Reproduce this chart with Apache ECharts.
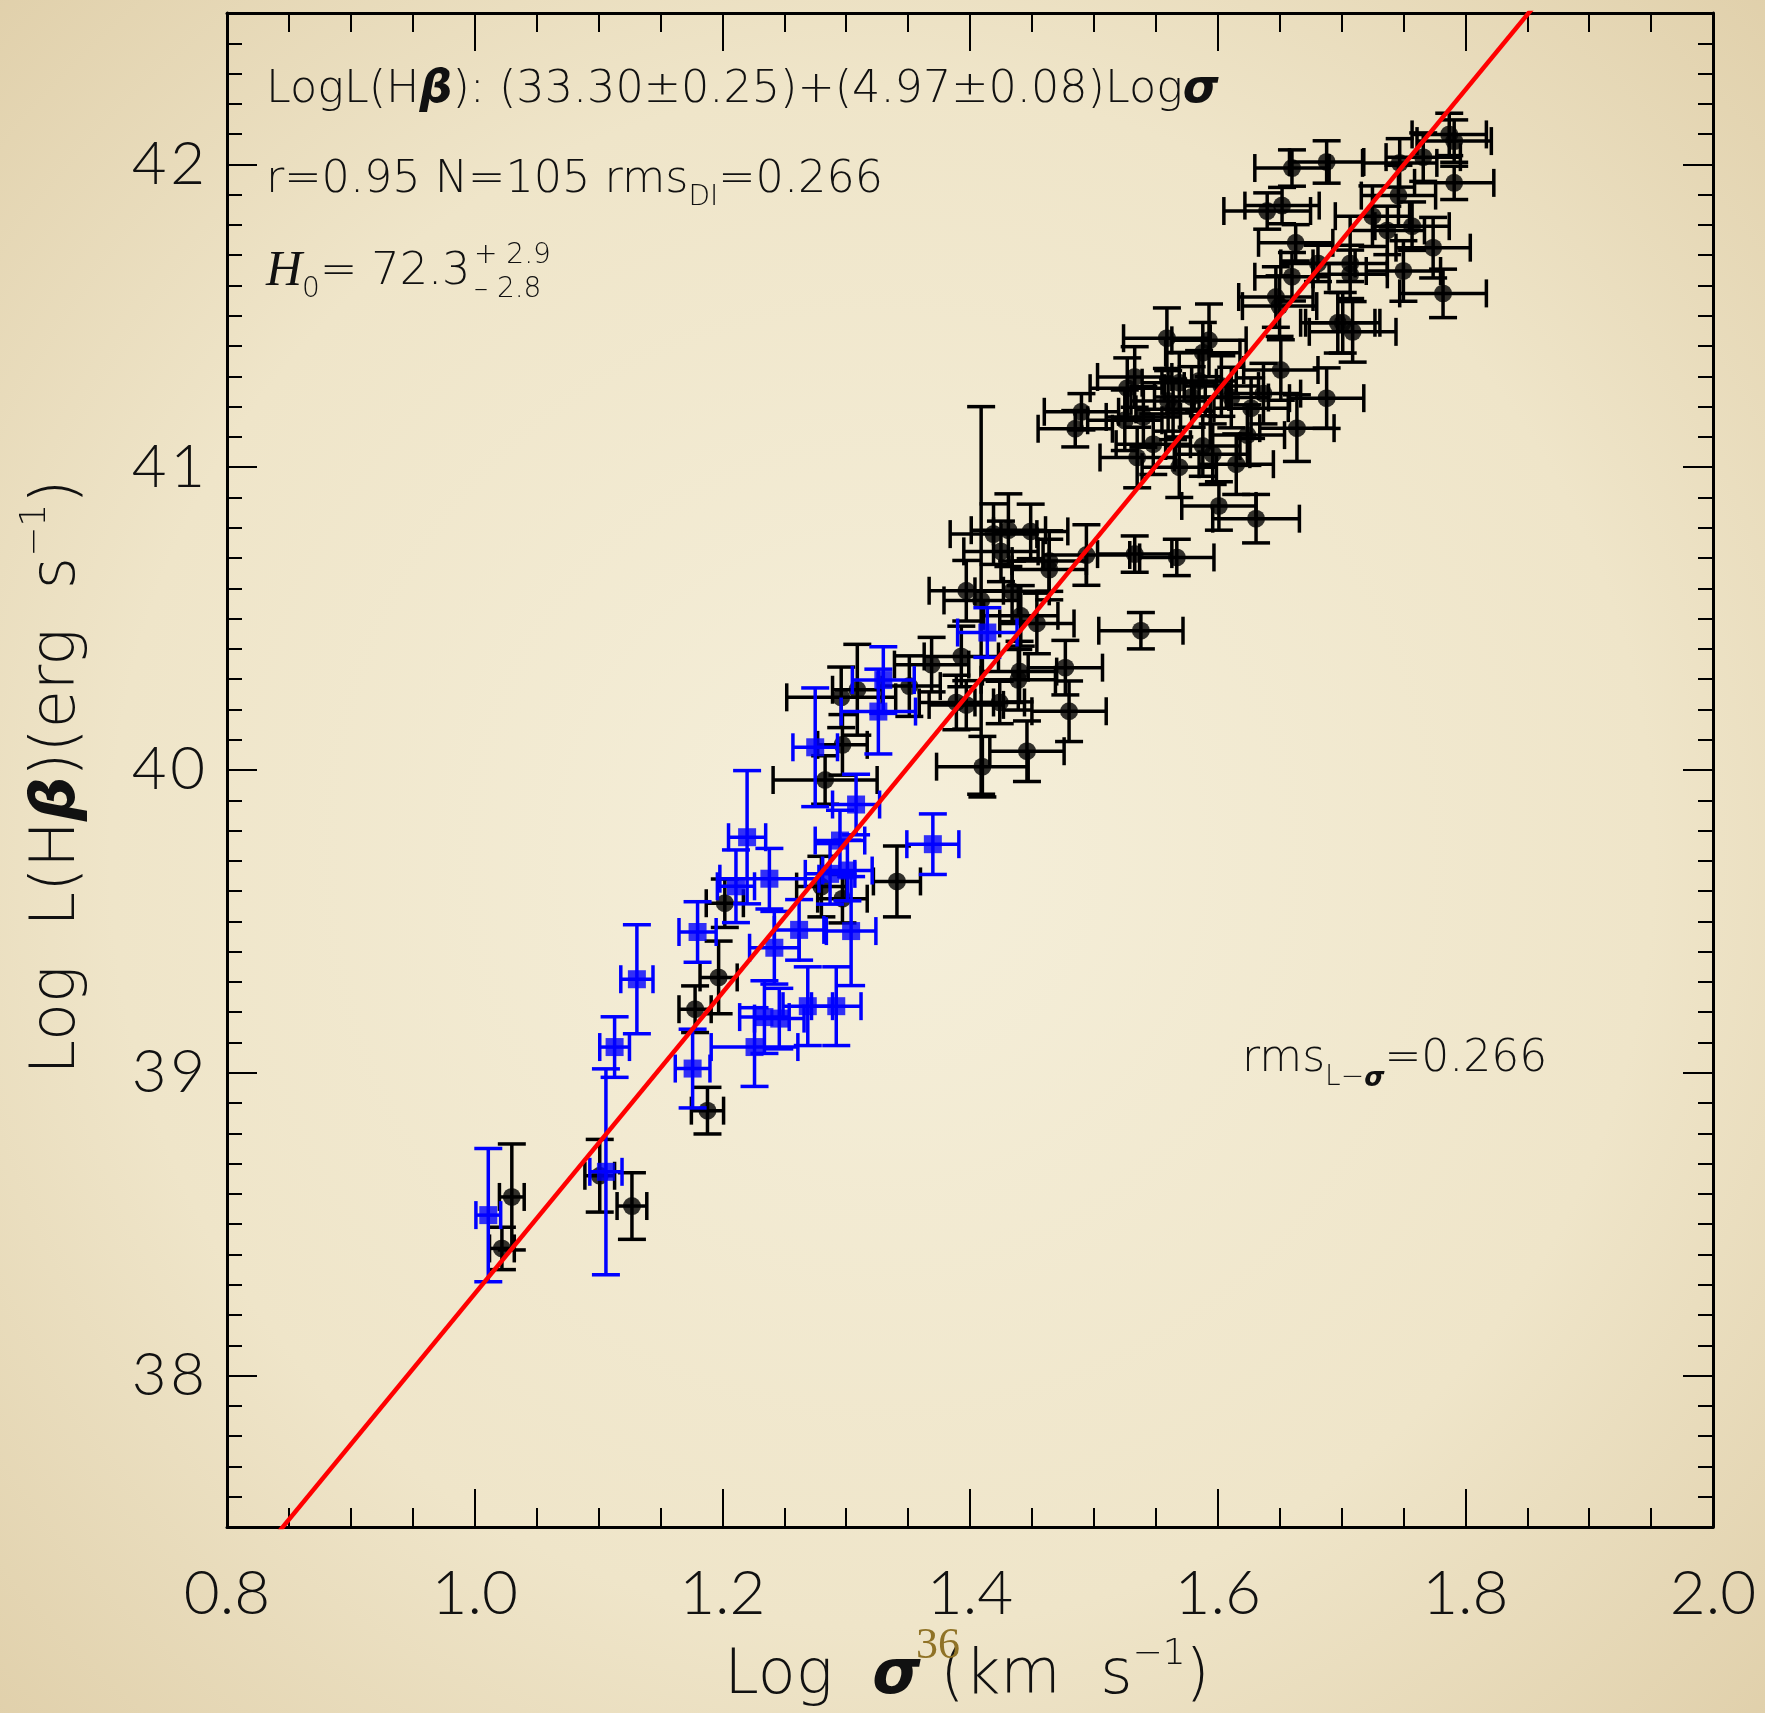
<!DOCTYPE html>
<html>
<head>
<meta charset="utf-8">
<title>Log L(Hβ) vs Log σ</title>
<script src="https://cdn.jsdelivr.net/npm/echarts@6/dist/echarts.min.js"></script>
<style>
html, body { margin: 0; padding: 0; }
#chart_container { width: 1765px; height: 1713px; }
</style>
</head>
<body>
<div id="chart_container"></div>
<script>
// black points (circles): log sigma, log L(Hb), errors
var black_logsig = [
    1.030, 1.022, 1.101, 1.127, 1.188, 1.178, 1.197, 1.202, 1.280, 1.297,
    1.341, 1.283, 1.297, 1.296, 1.309, 1.351, 1.369, 1.393, 1.389, 1.397,
    1.424, 1.440, 1.439, 1.477, 1.480, 1.446, 1.410, 1.538, 1.454, 1.441,
    1.397, 1.409, 1.434, 1.425, 1.464, 1.464, 1.419, 1.431, 1.449, 1.494,
    1.533, 1.567, 1.601, 1.631, 1.615, 1.569, 1.535, 1.548, 1.588, 1.596,
    1.624, 1.664, 1.688, 1.627, 1.637, 1.651, 1.485, 1.490, 1.525, 1.540,
    1.527, 1.533, 1.560, 1.569, 1.579, 1.564, 1.585, 1.603, 1.611, 1.559,
    1.593, 1.588, 1.647, 1.650, 1.697, 1.787, 1.791, 1.791, 1.766, 1.747,
    1.746, 1.725, 1.737, 1.757, 1.774, 1.750, 1.782, 1.660, 1.688, 1.640,
    1.652, 1.663, 1.681, 1.707, 1.707, 1.660, 1.701, 1.709
];
var black_logL = [
    38.590, 38.420, 38.660, 38.560, 38.875, 39.210, 39.315, 39.560, 39.615, 39.575,
    39.632, 39.967, 40.083, 40.240, 40.265, 40.277, 40.348, 40.375, 40.223, 40.215,
    40.223, 40.325, 40.298, 40.338, 40.194, 40.062, 40.011, 40.460, 40.484, 40.509,
    40.592, 40.560, 40.590, 40.722, 40.690, 40.662, 40.779, 40.792, 40.788, 40.710,
    40.713, 40.702, 40.872, 40.830, 41.010, 41.000, 41.032, 41.076, 41.070, 41.043,
    41.106, 41.129, 41.228, 41.195, 41.243, 41.321, 41.127, 41.183, 41.155, 41.166,
    41.261, 41.298, 41.219, 41.279, 41.232, 41.191, 41.285, 41.268, 41.230, 41.426,
    41.419, 41.378, 41.562, 41.532, 41.477, 42.099, 42.077, 41.939, 42.024, 42.005,
    41.897, 41.829, 41.782, 41.796, 41.725, 41.648, 41.574, 41.988, 42.008, 41.846,
    41.864, 41.741, 41.673, 41.673, 41.637, 41.629, 41.477, 41.447
];
var black_xerr = [
    0.010, 0.010, 0.012, 0.012, 0.013, 0.013, 0.015, 0.015, 0.020, 0.020,
    0.019, 0.042, 0.020, 0.044, 0.020, 0.025, 0.030, 0.030, 0.030, 0.030,
    0.020, 0.030, 0.030, 0.030, 0.030, 0.030, 0.037, 0.034, 0.030, 0.030,
    0.030, 0.030, 0.030, 0.030, 0.030, 0.030, 0.035, 0.030, 0.030, 0.035,
    0.030, 0.030, 0.030, 0.035, 0.030, 0.030, 0.030, 0.030, 0.030, 0.030,
    0.030, 0.030, 0.030, 0.030, 0.030, 0.030, 0.030, 0.030, 0.030, 0.030,
    0.030, 0.030, 0.030, 0.030, 0.030, 0.030, 0.030, 0.030, 0.030, 0.035,
    0.030, 0.030, 0.030, 0.030, 0.030, 0.030, 0.030, 0.032, 0.030, 0.030,
    0.030, 0.030, 0.030, 0.030, 0.030, 0.030, 0.035, 0.030, 0.030, 0.035,
    0.030, 0.030, 0.030, 0.030, 0.030, 0.030, 0.030, 0.035
];
var black_yerr = [
    0.175, 0.070, 0.120, 0.110, 0.077, 0.077, 0.120, 0.080, 0.100, 0.080,
    0.117, 0.080, 0.100, 0.100, 0.150, 0.100, 0.090, 0.100, 0.090, 0.080,
    0.070, 0.100, 0.100, 0.090, 0.100, 0.100, 0.100, 0.060, 0.100, 0.100,
    0.100, 0.640, 0.100, 0.100, 0.100, 0.100, 0.100, 0.120, 0.090, 0.100,
    0.060, 0.060, 0.080, 0.080, 0.100, 0.100, 0.100, 0.100, 0.100, 0.100,
    0.100, 0.110, 0.100, 0.100, 0.100, 0.100, 0.060, 0.060, 0.100, 0.100,
    0.100, 0.100, 0.100, 0.100, 0.100, 0.100, 0.100, 0.100, 0.100, 0.100,
    0.120, 0.100, 0.100, 0.100, 0.100, 0.070, 0.070, 0.055, 0.080, 0.080,
    0.100, 0.100, 0.080, 0.080, 0.100, 0.100, 0.080, 0.060, 0.070, 0.060,
    0.060, 0.060, 0.060, 0.060, 0.080, 0.080, 0.100, 0.100
];

// blue points (squares)
var blue_logsig = [
    1.011, 1.106, 1.176, 1.113, 1.131, 1.226, 1.234, 1.246, 1.269, 1.292,
    1.242, 1.262, 1.304, 1.180, 1.211, 1.238, 1.287, 1.301, 1.370, 1.308,
    1.275, 1.330, 1.326, 1.414, 1.220, 1.295
];
var blue_logL = [
    38.530, 38.673, 39.014, 39.085, 39.309, 39.085, 39.184, 39.179, 39.220, 39.220,
    39.413, 39.472, 39.468, 39.465, 39.616, 39.641, 39.657, 39.668, 39.755, 39.886,
    40.075, 40.297, 40.193, 40.454, 39.778, 39.767
];
var blue_xerr = [
    0.010, 0.013, 0.014, 0.012, 0.013, 0.035, 0.020, 0.020, 0.020, 0.020,
    0.020, 0.020, 0.020, 0.015, 0.015, 0.040, 0.020, 0.020, 0.021, 0.019,
    0.018, 0.025, 0.030, 0.024, 0.015, 0.020
];
var blue_yerr = [
    0.220, 0.340, 0.130, 0.100, 0.180, 0.130, 0.120, 0.100, 0.130, 0.130,
    0.120, 0.100, 0.180, 0.100, 0.120, 0.100, 0.100, 0.100, 0.100, 0.100,
    0.196, 0.110, 0.140, 0.082, 0.220, 0.100
];

// fit LogL(Hb) = a + b Log(sigma)
var fit_a = 33.30, fit_b = 4.97;
var fit_x = [0.8, 2.0];

var y_major = [38, 39, 40, 41, 42];

var FONT = 'Lato';
var TFONT = 'DejaVu Sans';
var TXT = '#111';

function zip(xs, ys, xe, ye) {
    var out = [];
    for (var i = 0; i < xs.length; i++) out.push([xs[i], ys[i], xe[i], ye[i]]);
    return out;
}
var black_data = zip(black_logsig, black_logL, black_xerr, black_yerr);
var blue_data = zip(blue_logsig, blue_logL, blue_xerr, blue_yerr);
var fit_data = fit_x.map(function (x) { return [x, fit_a + fit_b * x]; });

function errorBars(color) {
    return function (params, api) {
        var x = api.value(0), y = api.value(1), dx = api.value(2), dy = api.value(3);
        var c = api.coord([x, y]);
        var l = api.coord([x - dx, y])[0], r = api.coord([x + dx, y])[0];
        var t = api.coord([x, y + dy])[1], b = api.coord([x, y - dy])[1];
        var cap = 14;
        var st = { stroke: color, lineWidth: 3.5 };
        return {
            type: 'group',
            children: [
                { type: 'line', shape: { x1: l, y1: c[1], x2: r, y2: c[1] }, style: st },
                { type: 'line', shape: { x1: c[0], y1: t, x2: c[0], y2: b }, style: st },
                { type: 'line', shape: { x1: l, y1: c[1] - cap, x2: l, y2: c[1] + cap }, style: st },
                { type: 'line', shape: { x1: r, y1: c[1] - cap, x2: r, y2: c[1] + cap }, style: st },
                { type: 'line', shape: { x1: c[0] - cap, y1: t, x2: c[0] + cap, y2: t }, style: st },
                { type: 'line', shape: { x1: c[0] - cap, y1: b, x2: c[0] + cap, y2: b }, style: st }
            ]
        };
    };
}

var axisLineStyle = { color: '#000', width: 3 };
var tickStyle = { color: '#000', width: 2 };

function xAxisCfg(pos, labels) {
    return {
        type: 'value', position: pos, min: 0.8, max: 2.0, interval: 0.2,
        axisLine: { show: true, onZero: false, lineStyle: axisLineStyle },
        axisTick: { show: true, inside: true, length: 38, lineStyle: tickStyle },
        minorTick: { show: true, splitNumber: 4, length: 19, lineStyle: tickStyle },
        splitLine: { show: false },
        axisLabel: {
            show: labels, margin: 36, fontSize: 62, fontFamily: FONT, fontWeight: 300, color: TXT,
            showMinLabel: true, showMaxLabel: true,
            formatter: function (v) { return v.toFixed(1); }
        }
    };
}
function yMinorCfg(pos, labels) {
    return {
        type: 'value', position: pos, min: 37.5, max: 42.5, interval: 0.1,
        axisLine: { show: true, onZero: false, lineStyle: axisLineStyle },
        axisTick: { show: true, inside: true, length: 15, lineStyle: tickStyle },
        splitLine: { show: false },
        axisLabel: {
            show: labels, customValues: y_major, margin: 22, fontSize: 60, fontFamily: FONT,
            fontWeight: 300, color: TXT,
            formatter: function (v) { return String(Math.round(v)).split('').join('\u200A'); }
        }
    };
}
function yMajorCfg(pos) {
    return {
        type: 'value', position: pos, min: 37.5, max: 42.5, interval: 0.5,
        axisLine: { show: false },
        axisTick: { show: true, inside: true, length: 30, customValues: y_major, lineStyle: tickStyle },
        splitLine: { show: false },
        axisLabel: { show: false }
    };
}

function tok(size, extra) {
    var s = { fontSize: size, fontFamily: TFONT, fontWeight: 200, fill: TXT, lineHeight: 64 };
    for (var k in extra) s[k] = extra[k];
    return s;
}
var rich = {
    n: tok(44.5, {}),
    g: tok(46, { fontWeight: 'bold', fontStyle: 'italic' }),
    h: tok(50, { fontFamily: 'Liberation Serif', fontWeight: 'normal', fontStyle: 'italic' }),
    sub: tok(28, { lineHeight: 30, verticalAlign: 'bottom' }),
    subg: tok(26, { lineHeight: 30, verticalAlign: 'bottom', fontWeight: 'bold', fontStyle: 'italic' })
};
var richSmall = {
    n: tok(44, {}),
    sub: tok(28, { lineHeight: 30, verticalAlign: 'bottom' }),
    subg: tok(26, { lineHeight: 30, verticalAlign: 'bottom', fontWeight: 'bold', fontStyle: 'italic' })
};
var richTitle = {
    n: tok(62, { lineHeight: 80 }),
    g: tok(62, { lineHeight: 80, fontWeight: 'bold', fontStyle: 'italic' }),
    sup: tok(36, { lineHeight: 40, verticalAlign: 'top' })
};

function label(x, y, text, r, extra) {
    var el = { type: 'text', x: x, y: y, z: 100,
        style: { text: text, rich: r, align: 'left', verticalAlign: 'middle', fill: TXT, fontFamily: TFONT } };
    for (var k in extra) el[k] = extra[k];
    return el;
}
function plain(x, y, text, size, extra) {
    var st = { text: text, fontSize: size, fontFamily: TFONT, fontWeight: 200, fill: TXT,
        align: 'left', verticalAlign: 'middle' };
    for (var k in extra) st[k] = extra[k];
    return { type: 'text', x: x, y: y, z: 100, style: st };
}

var dom = document.getElementById('chart_container');
var myChart = echarts.init(dom, null, { renderer: 'canvas' });

var option = {
    animation: false,
    backgroundColor: {
        type: 'radial', x: 0.5, y: 0.5, r: 0.75,
        colorStops: [
            { offset: 0, color: '#f5efda' },
            { offset: 0.6, color: '#efe5c9' },
            { offset: 1, color: '#dfceA8' }
        ]
    },
    grid: { left: 227, right: 52, top: 13, bottom: 186, containLabel: false },
    xAxis: [xAxisCfg('bottom', true), xAxisCfg('top', false)],
    yAxis: [yMinorCfg('left', true), yMajorCfg('left'), yMinorCfg('right', false), yMajorCfg('right')],
    series: [
        {
            type: 'custom', name: 'black err', clip: true, renderItem: errorBars('#000000'),
            encode: { x: 0, y: 1 }, data: black_data, z: 2
        },
        {
            type: 'scatter', name: 'black', symbol: 'circle', symbolSize: 18,
            itemStyle: { color: '#000000' }, data: black_data, z: 3
        },
        {
            type: 'custom', name: 'blue err', clip: true, renderItem: errorBars('#0000ff'),
            encode: { x: 0, y: 1 }, data: blue_data, z: 4
        },
        {
            type: 'scatter', name: 'blue', symbol: 'rect', symbolSize: 18,
            itemStyle: { color: '#0000ff' }, data: blue_data, z: 5
        },
        {
            type: 'line', name: 'fit', data: fit_data, showSymbol: false, clip: true,
            lineStyle: { color: '#ff0000', width: 4.5 }, z: 6
        }
    ],
    graphic: [
        label(266, 90, '{n|LogL(H}{g|β}{n|): (33.30±0.25)+(4.97±0.08)Log}{g|σ}', rich),
        label(266, 180, '{n|r=0.95 N=105 rms}{sub|DI}{n|=0.266}', rich),
        label(266, 272, '{h|H}{sub|0}{n|= 72.3}', rich),
        plain(474, 256, '+ 2.9', 28),
        plain(474, 290, '– 2.8', 28),
        label(1242, 1060, '{n|rms}{sub|L−}{subg|σ}{n|=0.266}', richSmall),
        label(967, 1677, '', richTitle, { style: { text: '{n|Log  }{g|σ}{n| (km  s}{sup|−1}{n|)}', rich: richTitle, align: 'center', verticalAlign: 'middle' } }),
        label(58, 777, '', richTitle, { rotation: Math.PI / 2, style: { text: '{n|Log  L(H}{g|β}{n|)(erg  s}{sup|−1}{n|)}', rich: richTitle, align: 'center', verticalAlign: 'middle' } }),
        plain(938, 1646, '36', 44, { fontFamily: 'Liberation Serif', fontWeight: 'normal', fill: '#8f7226', align: 'center' })
    ]
};
option.graphic[8].z = 200;

myChart.setOption(option, true);
</script>
</body>
</html>
